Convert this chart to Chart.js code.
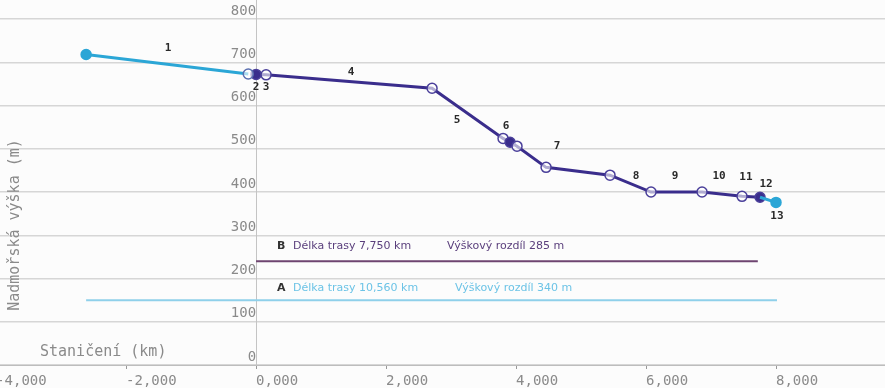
<!DOCTYPE html>
<html lang="cs">
<head>
<meta charset="UTF-8">
<title>Výškový profil trasy</title>
<script src="https://cdn.jsdelivr.net/npm/chart.js@4.4.0/dist/chart.umd.min.js"></script>
<style>
    html, body { margin: 0; padding: 0; background: #fcfcfc; }
    #wrap { width: 885px; height: 388px; }
</style>
</head>
<body>
<div id="wrap"><canvas id="profil"></canvas></div>
<script>
    // trasa A (světle modrá) - staničení v km, výška v m
    var staniceniA = [-2.615, -0.12, null, 7.754, 8.0];
    var vyskaA = [718, 673, null, 388, 376];
    var plnyA = [true, false, false, false, true];
    var bodA = [5, 5, 0, 0, 5];

    // trasa B (tmavě modrá)
    var staniceniB = [0.0, 0.154, 2.708, 3.80, 3.908, 4.015, 4.462, 5.446, 6.077, 6.862, 7.477, 7.754];
    var vyskaB = [672, 671, 640, 524, 515, 506, 457, 439, 400, 400, 390, 388];
    var plnyB = [true, false, false, false, true, false, false, false, false, false, false, true];

    // čísla úseků a jejich poloha
    var useky = ['1', '2', '3', '4', '5', '6', '7', '8', '9', '10', '11', '12', '13'];
    var usekyX = [-1.354, 0.0, 0.154, 1.462, 3.092, 3.846, 4.631, 5.846, 6.446, 7.123, 7.538, 7.846, 8.015];
    var usekyY = [733, 643, 643, 677, 566, 553, 506, 437, 437, 437, 435, 418, 344];

    // souhrnné čáry tras
    var souhrnA = { od: -2.615, do: 8.015, y: 150 };
    var souhrnB = { od: 0.0, do: 7.72, y: 240 };
    var popisA = ['A', 'Délka trasy 10,560 km', 'Výškový rozdíl 340 m'];
    var popisB = ['B', 'Délka trasy 7,750 km', 'Výškový rozdíl 285 m'];
    var popisAX = [0.323, 0.569, 3.06];
    var popisBX = [0.323, 0.569, 2.938];
    var popisAY = 178;
    var popisBY = 275;

    var yTicks = [0, 100, 200, 300, 400, 500, 600, 700, 800];

    var modraA = '#2ba6d6';
    var modraB = '#3a2d8c';

    function body(xs, ys) {
        return xs.map(function (x, i) { return { x: x, y: ys[i] }; });
    }

    // bez okrajů kolem grafu
    function bezOkraju(s) {
        s.paddingTop = 0;
        s.paddingBottom = 0;
        s.paddingLeft = 0;
        s.paddingRight = 0;
    }

    var pozadi = {
        id: 'pozadi',
        beforeDraw: function (chart) {
            var c = chart.ctx;
            c.save();
            c.fillStyle = '#fcfcfc';
            c.fillRect(0, 0, chart.width, chart.height);
            c.restore();
        }
    };

    var popisky = {
        id: 'popisky',
        afterDatasetsDraw: function (chart) {
            var c = chart.ctx;
            var sx = chart.scales.x, sy = chart.scales.y;
            c.save();
            c.textBaseline = 'middle';

            // čísla úseků
            c.font = 'bold 11px "DejaVu Sans Mono"';
            c.fillStyle = '#2a2a2a';
            c.textAlign = 'center';
            useky.forEach(function (t, i) {
                c.fillText(t, sx.getPixelForValue(usekyX[i]), sy.getPixelForValue(usekyY[i]));
            });

            // popisy tras
            c.textAlign = 'left';
            function radek(p, px, py, barva) {
                c.font = 'bold 11px "DejaVu Sans"';
                c.fillStyle = '#333';
                c.fillText(p[0], sx.getPixelForValue(px[0]), sy.getPixelForValue(py));
                c.font = '11px "DejaVu Sans"';
                c.fillStyle = barva;
                c.fillText(p[1], sx.getPixelForValue(px[1]), sy.getPixelForValue(py));
                c.fillText(p[2], sx.getPixelForValue(px[2]), sy.getPixelForValue(py));
            }
            radek(popisB, popisBX, popisBY, '#5a3f7c');
            radek(popisA, popisAX, popisAY, '#6cc3e6');

            // názvy os
            c.font = '15px "DejaVu Sans Mono"';
            c.fillStyle = '#8a8a8a';
            c.fillText('Staničení (km)', 40, chart.chartArea.bottom - 13);
            c.translate(15, 225);
            c.rotate(-Math.PI / 2);
            c.textAlign = 'center';
            c.fillText('Nadmořská výška (m)', 0, 0);
            c.restore();
        }
    };

    var ctx = document.getElementById('profil').getContext('2d');

    var grafProfil = new Chart(ctx, {
        type: 'line',
        data: {
            datasets: [
                {
                    label: 'souhrn A',
                    data: [{ x: souhrnA.od, y: souhrnA.y }, { x: souhrnA.do, y: souhrnA.y }],
                    borderColor: '#8fd0ea',
                    borderWidth: 2,
                    pointRadius: 0
                },
                {
                    label: 'souhrn B',
                    data: [{ x: souhrnB.od, y: souhrnB.y }, { x: souhrnB.do, y: souhrnB.y }],
                    borderColor: '#6e4470',
                    borderWidth: 2,
                    pointRadius: 0
                },
                {
                    label: 'Trasa A',
                    data: body(staniceniA, vyskaA),
                    borderColor: modraA,
                    borderWidth: 3,
                    spanGaps: false,
                    pointRadius: bodA,
                    pointBorderWidth: 1.5,
                    pointBorderColor: plnyA.map(function (p) { return p ? modraA : '#5a6fb0'; }),
                    pointBackgroundColor: plnyA.map(function (p) { return p ? modraA : 'rgba(255,255,255,0.6)'; })
                },
                {
                    label: 'Trasa B',
                    data: body(staniceniB, vyskaB),
                    borderColor: modraB,
                    borderWidth: 3,
                    pointRadius: 5,
                    pointBorderWidth: 1.5,
                    pointBorderColor: '#4a3f9a',
                    pointBackgroundColor: plnyB.map(function (p) { return p ? modraB : 'rgba(255,255,255,0.6)'; })
                }
            ]
        },
        options: {
            responsive: true,
            maintainAspectRatio: false,
            animation: false,
            layout: { padding: 0, autoPadding: false },
            plugins: {
                legend: { display: false },
                tooltip: { enabled: false }
            },
            scales: {
                x: {
                    type: 'linear',
                    min: -3.94,
                    max: 9.677,
                    afterBuildTicks: function (s) {
                        s.ticks = [-4, -2, 0, 2, 4, 6, 8].map(function (v) { return { value: v }; });
                    },
                    afterFit: function (s) {
                        bezOkraju(s);
                        s.height = 23;
                    },
                    ticks: {
                        align: 'start',
                        padding: 5,
                        color: '#8a8a8a',
                        font: { family: '"DejaVu Sans Mono"', size: 14, lineHeight: 1 },
                        maxRotation: 0,
                        autoSkip: false,
                        callback: function (v) { return v.toFixed(3).replace('.', ','); }
                    },
                    grid: { drawOnChartArea: false, drawTicks: true, tickLength: 4, color: '#999' },
                    border: { color: '#bdbdbd', width: 1 }
                },
                y: {
                    type: 'linear',
                    position: { x: 0 },
                    min: 0,
                    max: 844,
                    afterBuildTicks: function (s) {
                        s.ticks = yTicks.map(function (v) { return { value: v }; });
                    },
                    afterFit: bezOkraju,
                    ticks: {
                        padding: 6,
                        labelOffset: -8,
                        color: '#8a8a8a',
                        font: { family: '"DejaVu Sans Mono"', size: 14 }
                    },
                    grid: { color: '#d6d6d6', lineWidth: 1.5, drawTicks: false },
                    border: { color: '#c4c4c4', width: 1 }
                }
            }
        },
        plugins: [pozadi, popisky]
    });
</script>
</body>
</html>
